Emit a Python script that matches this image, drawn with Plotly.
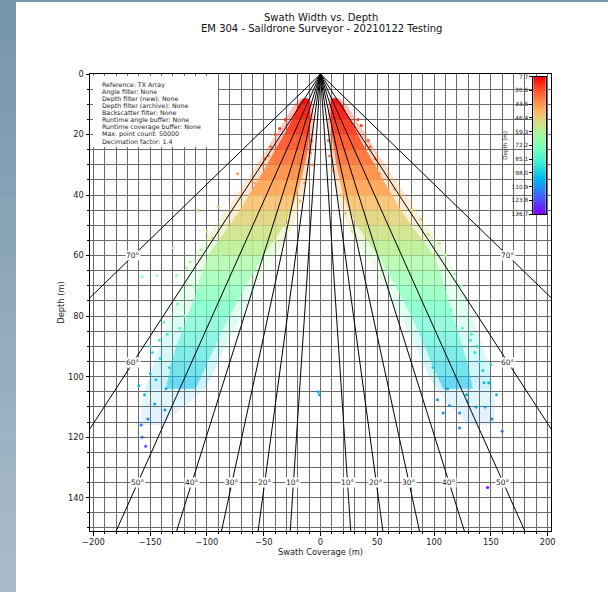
import numpy as np
import plotly.graph_objects as go

# ---------------- data ----------------
title_lines = ["Swath Width vs. Depth", "EM 304 - Saildrone Surveyor - 20210122 Testing"]
info_lines = ["Reference: TX Array", "Angle filter: None", "Depth filter (new): None",
              "Depth filter (archive): None", "Backscatter filter: None",
              "Runtime angle buffer: None", "Runtime coverage buffer: None",
              "Max. point count: 50000", "Decimation factor: 1.4"]
x_ticks = [-200, -150, -100, -50, 0, 50, 100, 150, 200]
y_ticks = [0, 20, 40, 60, 80, 100, 120, 140]
cbar_ticks = [7.7, 20.6, 33.5, 46.4, 59.3, 72.2, 85.1, 98.0, 110.9, 123.8, 136.7]
angle_lines = [10, 20, 30, 40, 50, 60, 70]

# dense core of each swath wing: depth rows with inner / outer across-track limits (m)
port_depth = [8, 10, 15, 20, 25, 30, 35, 40, 45, 50, 55, 60, 65, 70, 75, 80, 85, 90, 95, 100, 104]
port_inner = [-11, -9, -9, -10, -11, -14, -17, -21, -26, -32, -41, -50, -58, -66, -73, -80, -87, -93, -99, -105, -110]
port_outer = [-15, -19, -25, -32, -40, -47, -55, -63, -71, -80, -90, -99, -104, -108, -112, -117, -122, -127, -131, -134, -136]

stbd_depth = [8, 10, 15, 20, 25, 30, 35, 40, 45, 50, 55, 60, 65, 70, 75, 80, 85, 90, 95, 100, 104]
stbd_inner = [10, 9, 9, 10, 12, 14, 17, 20, 25, 32, 41, 50, 58, 66, 73, 80, 86, 92, 97, 103, 108]
stbd_outer = [14, 19, 26, 33, 40, 48, 55, 63, 71, 80, 90, 100, 105, 109, 113, 117, 121, 125, 129, 132, 134]

# sparse fringe around each wing: own depth rows with inner / outer limits (m)
port_fr_depth = [8, 10, 15, 20, 25, 30, 35, 40, 45, 50, 55, 60, 65, 70, 75, 80, 85, 90, 95, 100, 104, 110, 116]
port_fr_inner = [-9, -7, -6, -6, -7, -9, -12, -15, -19, -24, -31, -40, -48, -56, -63, -70, -77, -84, -90, -96, -102, -120, -140]
port_fr_outer = [-17, -23, -31, -39, -48, -56, -65, -74, -83, -92, -102, -111, -117, -122, -127, -132, -137, -142, -146, -150, -154, -158, -158]
stbd_fr_depth = [8, 10, 15, 20, 25, 30, 35, 40, 45, 50, 55, 60, 65, 70, 75, 80, 85, 90, 95, 100, 104, 110, 116]
stbd_fr_inner = [8, 7, 6, 7, 8, 10, 12, 15, 19, 24, 31, 40, 48, 56, 63, 70, 77, 84, 90, 96, 102, 115, 130]
stbd_fr_outer = [17, 23, 31, 40, 48, 57, 66, 75, 84, 93, 103, 112, 118, 123, 128, 133, 138, 143, 147, 150, 152, 154, 152]

# scattered soundings outside the dense core (x m, depth m)
port_x = [-8, -9, -7, -40, -46, -52, -58, -73, -108, -90, -36, -44, -49, -31, -14, -18, -84, -95,
          -100, -30, -40, -115, -105, -130, -144, -157, -127, -108, -126, -120, -138, -135, -142,
          -148, -141, -150, -155, -146, -137, -152, -157, -154, -160, -145, -136, -158, -1, -2,
          -62, -70, -88, -112, -118, -124, -150, -133]
port_d = [22, 26, 30, 20, 27, 30, 36, 33, 45, 44, 18, 24, 28, 15, 36, 42, 50, 54,
          52, 50, 55, 62, 58, 57.4, 66.6, 67, 66.6, 73, 76, 80, 82, 86, 88,
          92, 94, 99, 106, 109, 111, 114, 120, 123, 103, 101, 104, 116, 106, 105,
          40, 48, 60, 70, 64, 84, 90, 97]
stbd_x = [7, 8, 10, 42, 48, 52, 70, 80, 88, 95, 18, 22, 28, 60, 110, 118, 124, 128, 115, 125,
          132, 136, 140, 148, 151, 145, 99, 103, 113.6, 122.5, 137, 129.6, 128.6, 144, 122.5,
          147.2, 155, 160, 112, 36, 44, 33, 65, 105, 138, 143, 118, 108, 150, 133]
stbd_d = [22, 27, 32, 22, 28, 33, 40, 45, 48, 53, 40, 46, 52, 62, 60, 66, 70, 74, 78, 84,
          88, 92, 95, 102, 114, 110, 97, 107.6, 109.5, 112, 110, 108, 106, 102, 117,
          136.6, 106, 118, 104, 17, 24, 15, 38, 56, 90, 98, 100, 112, 96, 86]

# ---------------- styling helpers ----------------
W, H = 608, 592
L, R, T, B = 90, 551, 74, 531
FONT = "DejaVu Sans"
DMIN, DMAX = cbar_ticks[0], cbar_ticks[-1]
GRID = "#6a6a6a"


def px_x(px):
    return (px - L) / (R - L)


def px_y(py):
    return (B - py) / (B - T)


def rainbow(t):
    r = np.clip(abs(2 * t - 0.5), 0, 1)
    g = np.clip(np.sin(np.pi * t), 0, 1)
    b = np.clip(np.cos(np.pi * t / 2), 0, 1)
    return int(round(r * 255)), int(round(g * 255)), int(round(b * 255))


def depth_rgb(d):
    t = 1 - (d - DMIN) / (DMAX - DMIN)
    return rainbow(float(np.clip(t, 0, 1)))


colorscale = []
for s in np.linspace(0, 1, 33):
    rr, gg, bb = rainbow(1 - s)
    colorscale.append([float(s), f"rgb({rr},{gg},{bb})"])

fig = go.Figure()


def add_bands(dep, inn, out, opac):
    for i in range(len(dep) - 1):
        mid = 0.5 * (dep[i] + dep[i + 1])
        rr, gg, bb = depth_rgb(mid)
        fig.add_trace(go.Scatter(
            x=[inn[i], out[i], out[i + 1], inn[i + 1], inn[i]],
            y=[dep[i], dep[i], dep[i + 1], dep[i + 1], dep[i]],
            mode="lines", fill="toself", line=dict(width=0),
            fillcolor=f"rgba({rr},{gg},{bb},{opac(mid)})",
            hoverinfo="skip", showlegend=False))


def core_op(m):
    return 0.95 if m < 40 else (0.82 if m < 60 else (0.66 if m < 80 else 0.5))


def fringe_op(m):
    return 0.3 if m < 60 else (0.2 if m < 104 else 0.12)


add_bands(port_fr_depth, port_fr_inner, port_fr_outer, fringe_op)
add_bands(stbd_fr_depth, stbd_fr_inner, stbd_fr_outer, fringe_op)
add_bands(port_depth, port_inner, port_outer, core_op)
add_bands(stbd_depth, stbd_inner, stbd_outer, core_op)

# scattered soundings
fig.add_trace(go.Scatter(
    x=port_x + stbd_x, y=port_d + stbd_d, mode="markers",
    marker=dict(size=3, color=port_d + stbd_d, colorscale=colorscale, cmin=DMIN, cmax=DMAX,
                line=dict(width=0)),
    showlegend=False, hoverinfo="skip"))

# radial angle lines
far = 400
for a in angle_lines:
    for side in (-1, 1):
        fig.add_trace(go.Scatter(
            x=[0, side * far * np.tan(np.radians(a))], y=[0, far], mode="lines",
            line=dict(color="black", width=1), hoverinfo="skip", showlegend=False))

annotations = []
for a in angle_lines:
    ta = np.tan(np.radians(a))
    if 135 * ta <= 165:
        xl, dl = 135 * ta, 135
    else:
        xl, dl = 165, 165 / ta
    for side in (-1, 1):
        annotations.append(dict(x=side * xl, y=dl, xref="x", yref="y", text=f"{a}°",
                                showarrow=False, bgcolor="white", borderpad=0,
                                font=dict(family=FONT, size=7.5, color="#222")))

# colorbar as a small heatmap subplot
cb_y = np.linspace(DMIN, DMAX, 120)
fig.add_trace(go.Heatmap(
    x=[0, 1], y=cb_y, z=[[v, v] for v in cb_y], colorscale=colorscale, zmin=DMIN, zmax=DMAX,
    showscale=False, xaxis="x2", yaxis="y2", hoverinfo="skip"))

# title
annotations.append(dict(x=px_x(321), y=px_y(17), xref="paper", yref="paper", text=title_lines[0],
                        showarrow=False, yanchor="middle",
                        font=dict(family=FONT, size=10, color="#111")))
annotations.append(dict(x=px_x(321), y=px_y(29), xref="paper", yref="paper", text=title_lines[1],
                        showarrow=False, yanchor="middle",
                        font=dict(family=FONT, size=10, color="#111")))

# info text box lines
for i, line in enumerate(info_lines):
    annotations.append(dict(x=px_x(100), y=px_y(84.5 + i * 7.1), xref="paper", yref="paper",
                            text=line, showarrow=False, xanchor="left", yanchor="middle",
                            font=dict(family=FONT, size=6.3, color="#222")))

shapes = []
# window background: left gradient strip and top strip
top_c = np.array([118, 150, 172])
bot_c = np.array([170, 188, 202])
nb = 30
for i in range(nb):
    c = top_c + (bot_c - top_c) * (i / (nb - 1))
    y0 = i * H / nb
    y1 = (i + 1) * H / nb + 0.5
    shapes.append(dict(type="rect", xref="paper", yref="paper", x0=px_x(0), x1=px_x(16),
                       y0=px_y(y1), y1=px_y(y0), line=dict(width=0),
                       fillcolor=f"rgb({int(c[0])},{int(c[1])},{int(c[2])})", layer="above"))
shapes.append(dict(type="rect", xref="paper", yref="paper", x0=px_x(0), x1=px_x(W),
                   y0=px_y(2), y1=px_y(0), line=dict(width=0), fillcolor="rgb(118,150,172)",
                   layer="above"))
# info box
shapes.append(dict(type="rect", xref="paper", yref="paper", x0=px_x(93), x1=px_x(218),
                   y0=px_y(147), y1=px_y(76), line=dict(width=0),
                   fillcolor="white", layer="above"))

fig.update_layout(
    width=W, height=H, margin=dict(l=L, r=W - R, t=T, b=H - B, pad=0),
    paper_bgcolor="white", plot_bgcolor="white",
    font=dict(family=FONT, size=8.3, color="#222"),
    showlegend=False, annotations=annotations, shapes=shapes,
    xaxis=dict(range=[-203, 203], tickmode="linear", tick0=0, dtick=50, ticks="outside",
               ticklen=3.5, tickcolor="black", showline=True, mirror=True, linecolor="black",
               linewidth=1, showgrid=True, gridcolor=GRID, gridwidth=1, zeroline=False,
               tickfont=dict(size=8.3),
               minor=dict(tickmode="linear", tick0=0, dtick=10, showgrid=True, gridcolor=GRID,
                          ticks="outside", ticklen=2, tickcolor="black"),
               title=dict(text="Swath Coverage (m)", font=dict(size=8.3), standoff=1)),
    yaxis=dict(range=[151, 0], tickmode="linear", tick0=0, dtick=20, ticks="outside",
               ticklen=3.5, tickcolor="black", showline=True, mirror=True, linecolor="black",
               linewidth=1, showgrid=True, gridcolor=GRID, gridwidth=1, zeroline=False,
               tickfont=dict(size=8.3),
               minor=dict(tickmode="linear", tick0=0, dtick=5, showgrid=True, gridcolor=GRID,
                          ticks="outside", ticklen=2, tickcolor="black"),
               title=dict(text="Depth (m)", font=dict(size=8.3), standoff=2)),
    xaxis2=dict(domain=[px_x(533.3), px_x(545.7)], anchor="y2", range=[0, 1],
                showticklabels=False, ticks="", showgrid=False, zeroline=False,
                showline=True, mirror=True, linecolor="black", linewidth=1),
    yaxis2=dict(domain=[px_y(214), px_y(76.7)], anchor="x2", range=[DMAX, DMIN],
                tickmode="array", tickvals=cbar_ticks, ticktext=[f"{v:.1f}" for v in cbar_ticks],
                side="left", ticks="outside", ticklen=3, tickcolor="black",
                tickfont=dict(size=5.8), showgrid=False, zeroline=False,
                showline=True, mirror=True, linecolor="black", linewidth=1,
                title=dict(text="Depth (m)", font=dict(size=5.6), standoff=3)),
)

fig.write_html("out.html", config={"displayModeBar": False},
               post_script="document.body.style.margin='0';")
